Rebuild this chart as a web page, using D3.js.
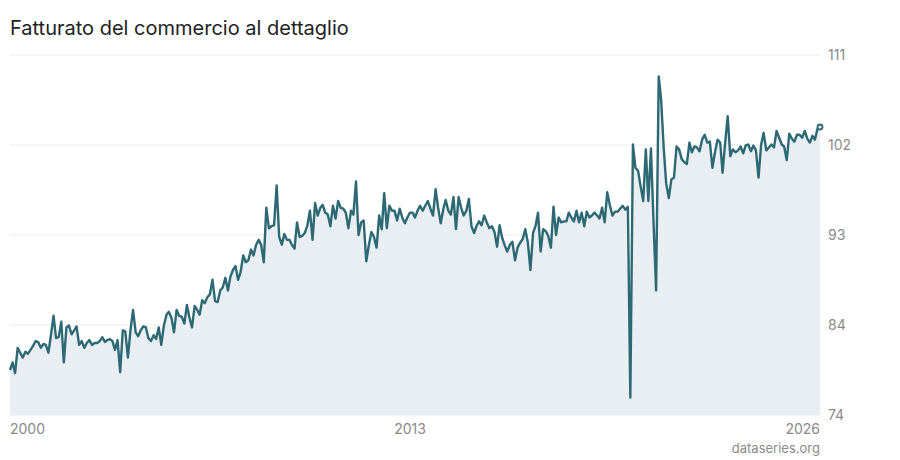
<!DOCTYPE html>
<html>
<head>
<meta charset="utf-8">
<script src="https://cdn.jsdelivr.net/npm/d3@7"></script>
<style>
  body { margin: 0; background: #fff; font-family: Inter, "Noto Sans", sans-serif; }
</style>
</head>
<body>
<svg id="chart" width="900" height="460"></svg>
<script>
// monthly values from Jan 2000
var vals2000_2008 = [78.6,79.4,78.3,80.9,80.4,79.9,80.5,80.3,80.7,81.1,81.6,81.5,80.9,81.3,81.2,80.4,82.2,84.2,81.9,82.0,83.6,79.4,83.0,83.2,
  82.3,82.7,83.1,81.2,81.6,80.9,81.4,81.7,81.2,81.4,81.4,81.6,82.0,81.5,81.7,81.8,81.6,80.7,81.7,78.4,82.7,82.6,79.9,82.7,
  84.8,82.5,82.1,82.7,83.1,83.0,81.9,81.6,82.2,81.8,83.0,81.2,83.2,84.3,84.6,84.0,82.5,84.8,84.2,84.1,83.4,85.3,84.0,83.0,
  85.2,84.8,84.3,85.8,85.5,86.1,86.4,87.9,85.7,85.6,86.8,87.1,88.1,86.8,88.2,88.9,89.3,87.9,88.7,90.4,89.7,89.9,91.0,90.4,
  91.5,92.0,91.5,89.7,95.3,93.2,93.4,93.5,97.6,92.3];
var vals2009_2017 = [91.5,92.6,92.0,92.0,91.5,91.1,93.8,92.3,92.4,92.7,93.5,95.0,92.0,95.8,94.5,95.3,95.6,94.8,94.6,93.4,
  95.5,94.2,96.0,95.3,95.2,94.8,93.2,95.0,94.6,98.0,92.5,93.8,94.0,89.8,91.5,92.8,92.3,91.2,94.5,93.1,96.8,93.2,95.5,95.0,
  95.0,94.0,95.2,94.3,93.7,94.3,94.8,94.8,94.3,95.0,95.5,95.0,95.5,96.0,95.2,94.5,97.2,95.3,93.7,95.2,96.1,95.0,94.6,96.4,
  93.1,96.4,95.3,94.5,95.0,96.2,93.4,92.7,93.4,93.9,93.5,94.5,93.8,93.2,93.4,92.8,91.3,93.5,92.2,91.4,90.8,91.5,91.8,89.9,
  91.2,91.7,92.1,93.1,91.7,88.9,92.7,93.5,94.8,90.8,93.1,92.9,92.4];
var vals2018_2026 = [91.2,95.4,92.5,94.3,93.8,93.9,93.9,94.8,94.3,93.9,95.0,93.8,94.8,93.4,94.9,94.3,94.5,94.8,94.5,94.2,
  95.3,93.8,96.9,95.6,94.5,94.9,94.9,95.2,95.5,95.1,95.4,75.8,101.8,99.4,99.1,97.5,96.0,101.3,96.0,101.4,94.0,86.8,108.8,106.5,
  101.5,97.8,96.3,98.2,98.4,101.6,101.3,100.3,100.0,99.8,102.0,101.0,101.6,101.5,101.1,102.3,102.8,102.0,102.1,99.4,101.0,102.3,
  102.0,98.9,102.0,104.7,100.6,101.3,101.0,101.2,101.6,100.9,101.7,101.8,101.1,101.7,101.2,98.4,101.8,103.0,101.2,101.5,101.8,
  101.5,103.2,102.5,101.8,101.6,100.2,102.9,102.4,102.1,102.8,102.8,102.5,103.2,102.4,102.0,102.7,102.3,103.4,103.6];
var values = vals2000_2008.concat(vals2009_2017, vals2018_2026);
var yearTicks = [2000, 2013, 2026];
var yTickLabels = ["74", "84", "93", "102", "111"];

var data = values.map(function(v, i) { return { date: new Date(2000, i, 1), value: v }; });

var svg = d3.select("#chart");
var mLeft = 10, mRight = 820, mTop = 55, mBottom = 415;

var x = d3.scaleTime().domain(d3.extent(data, d => d.date)).range([mLeft, mRight]);
var y = d3.scaleLinear().domain([74, 111]).range([mBottom, mTop]);

// gridlines
var tickVals = d3.range(5).map(i => 74 + i * (111 - 74) / 4);
svg.append("g").selectAll("line").data(tickVals).enter().append("line")
  .attr("x1", mLeft).attr("x2", mRight)
  .attr("y1", d => y(d)).attr("y2", d => y(d))
  .attr("stroke", "#ececec").attr("stroke-width", 1);

svg.append("path").datum(data)
  .attr("fill", "#e8eef1")
  .attr("d", d3.area().x(d => x(d.date)).y0(mBottom).y1(d => y(d.value)));

svg.append("path").datum(data)
  .attr("fill", "none").attr("stroke", "#2d6974").attr("stroke-width", 2.4)
  .attr("stroke-linejoin", "round")
  .attr("d", d3.line().x(d => x(d.date)).y(d => y(d.value)));

// last point marker
var last = data[data.length - 1];
svg.append("circle").attr("cx", x(last.date)).attr("cy", y(last.value)).attr("r", 2.5)
  .attr("fill", "#e8eef1").attr("stroke", "#2d6974").attr("stroke-width", 1.8);

// y labels on the right
svg.append("g").selectAll("text").data(tickVals).enter().append("text")
  .attr("x", 828).attr("y", d => y(d) + 5)
  .attr("fill", "#8a8a8a").attr("font-size", 14)
  .text((d, i) => yTickLabels[i]);

// x labels
svg.append("g").selectAll("text").data(yearTicks).enter().append("text")
  .attr("x", (d, i) => i == 2 ? mRight : x(new Date(d, 0, 1)))
  .attr("y", 434)
  .attr("text-anchor", (d, i) => i == 0 ? "start" : (i == 2 ? "end" : "middle"))
  .attr("fill", "#8a8a8a").attr("font-size", 14)
  .text(d => d);

svg.append("text").attr("x", 10).attr("y", 35)
  .attr("font-size", 20).attr("fill", "#222")
  .text("Fatturato del commercio al dettaglio");

svg.append("text").attr("x", 820).attr("y", 453)
  .attr("text-anchor", "end").attr("font-size", 13).attr("fill", "#8a8a8a")
  .text("dataseries.org");
</script>
</body>
</html>
